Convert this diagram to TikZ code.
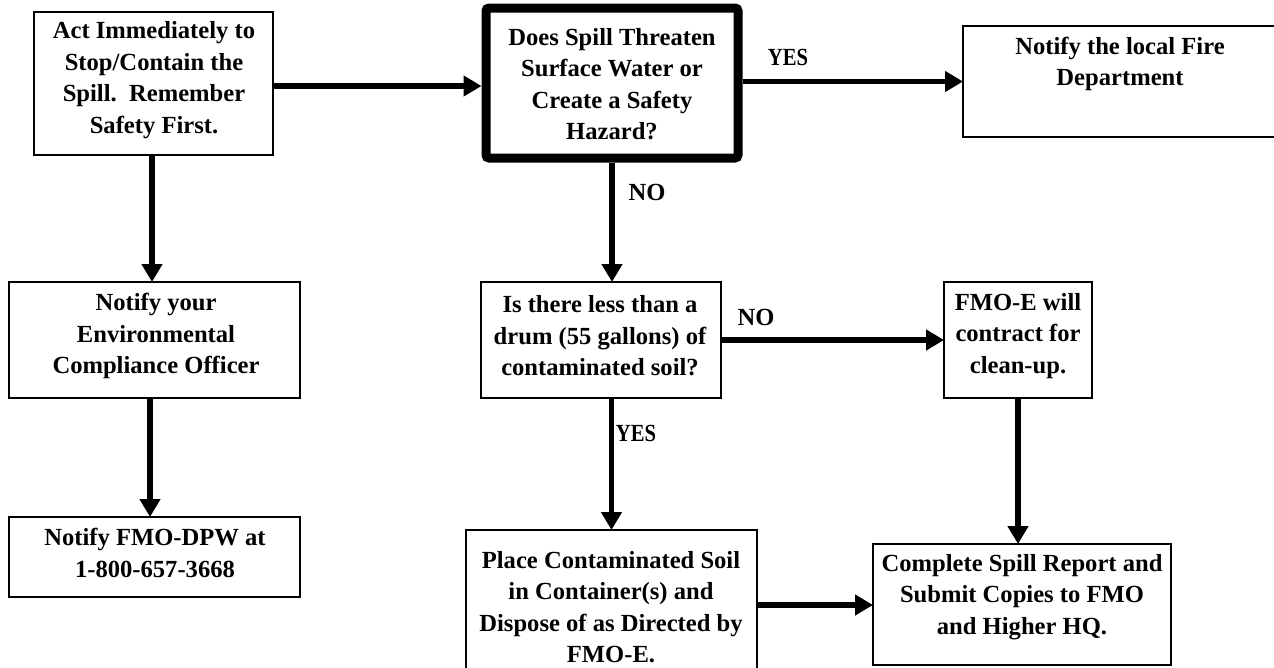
\documentclass[tikz,border=0pt]{standalone}
\usepackage{fontspec}
\setmainfont{Liberation Serif}
\usetikzlibrary{arrows.meta}
\begin{document}
\begin{tikzpicture}[x=1pt,y=-1pt,
  box/.style={draw=black,line width=1.5pt,rectangle,inner sep=0pt,outer sep=0pt},
  thickbox/.style={draw=black,line width=9pt,rectangle,rounded corners=3pt,inner sep=0pt},
  txt/.style={align=center,inner sep=0pt,font=\fontsize{24.6}{31.5}\selectfont\bfseries},
  lbl/.style={inner sep=0pt,font=\fontsize{24.6}{31.5}\selectfont\bfseries},
  flow/.style={line width=5.5pt,-{Triangle[length=18pt,width=20pt]}}]
\useasboundingbox (0,0) rectangle (1274,667);
\clip (0,0) rectangle (1274,667);
% boxes
\node[box,minimum width=239pt,minimum height=143pt] (A) at (153.5,83.5) {};
\node[thickbox,minimum width=252pt,minimum height=150pt] (B) at (612,83) {};
\node[box,minimum width=314pt,minimum height=111pt] (C) at (1120,81.5) {};
\node[box,minimum width=240pt,minimum height=116pt] (D) at (601,340) {};
\node[box,minimum width=148pt,minimum height=116pt] (E) at (1018,340) {};
\node[box,minimum width=291pt,minimum height=160pt] (F) at (611.5,610) {};
\node[box,minimum width=298pt,minimum height=121pt] (G) at (1022,604.5) {};
\node[box,minimum width=291pt,minimum height=116pt] (H) at (154.5,340) {};
\node[box,minimum width=291pt,minimum height=80pt] (I) at (154.5,557) {};
% texts
\node[txt] (At) at (154,80) {Act Immediately to\\Stop/Contain the\\Spill.\ \ Remember\\Safety First.};
\node[txt] (Bt) at (612,84) {Does Spill Threaten\\Surface Water or\\Create a Safety\\Hazard?};
\node[txt] (Ct) at (1120,64) {Notify the local Fire\\Department};
\node[txt] (Dt) at (600,336) {Is there less than a\\drum (55 gallons) of\\contaminated soil?};
\node[txt] (Et) at (1018,336) {FMO-E will\\contract for\\clean-up.};
\node[txt] (Ft) at (611,607) {Place Contaminated Soil\\in Container(s) and\\Dispose of as Directed by\\FMO-E.};
\node[txt] (Gt) at (1022,597) {Complete Spill Report and\\Submit Copies to FMO\\and Higher HQ.};
\node[txt] (Ht) at (156,336) {Notify your\\Environmental\\Compliance Officer};
\node[txt] (It) at (155,553) {Notify FMO-DPW at\\1-800-657-3668};
% labels
\node[lbl] (L1) at (788,57) {\scalebox{0.84}[1]{YES}};
\node[lbl] (L2) at (647,192) {NO};
\node[lbl] (L3) at (756,317) {NO};
\node[lbl] (L4) at (636,433) {\scalebox{0.84}[1]{YES}};
% connectors
\draw[flow] (A.east |- 0,86) -- (B.west |- 0,86);
\draw[flow] (B.east |- C.west) -- (C.west);
\draw[flow] (B.south) -- (B.south |- D.north);
\draw[flow] (A.south -| 152,0) -- (H.north -| 152,0);
\draw[flow] (H.south -| 150,0) -- (I.north -| 150,0);
\draw[flow] (D.east) -- (E.west);
\draw[flow] (F.north |- D.south) -- (F.north);
\draw[flow] (E.south) -- (E.south |- G.north);
\draw[flow] (F.east |- 0,605) -- (G.west |- 0,605);
\end{tikzpicture}
\end{document}
